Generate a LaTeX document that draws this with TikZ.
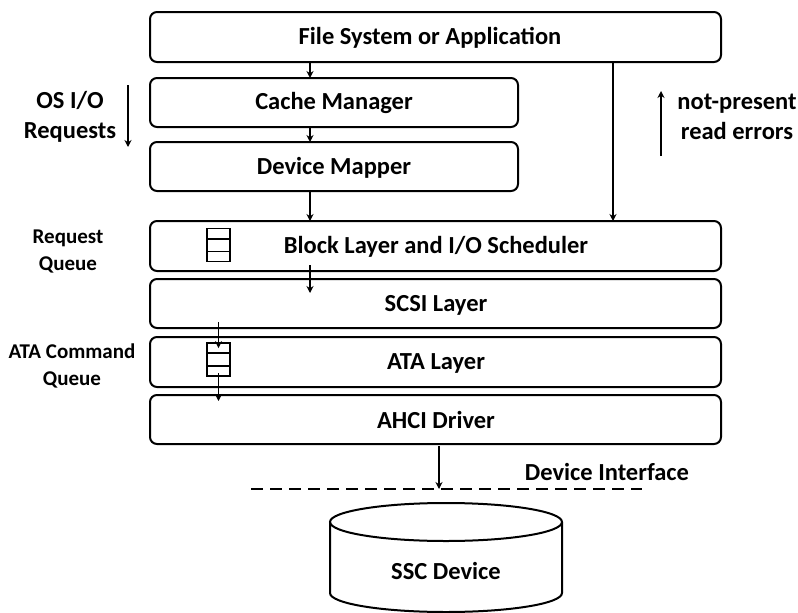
\documentclass[tikz,border=0pt]{standalone}
\usepackage{fontspec}
\setmainfont{Carlito}
\usetikzlibrary{arrows.meta}
\begin{document}
\begin{tikzpicture}[x=1pt,y=-1pt,
  layer/.style={draw,line width=2pt,rounded corners=7pt},
  lbl/.style={font=\fontsize{24.5}{30}\selectfont\bfseries,align=center,inner sep=0pt},
  slbl/.style={font=\fontsize{21}{27}\selectfont\bfseries,align=center,inner sep=0pt},
  arr/.style={line width=1.8pt,-{Stealth[length=7pt,width=7pt]}},
  qbox/.style={draw,line width=1.8pt,minimum width=23pt,minimum height=33pt,inner sep=0pt}]
\useasboundingbox (0,0) rectangle (798,613);
% layers
\draw[layer] (150,12) rectangle (721,62);
\node[lbl] (fs) at (430,38) {File System or Application};
\draw[layer] (150,78) rectangle (518,127);
\node[lbl] (cm) at (334,103) {Cache Manager};
\draw[layer] (150,142) rectangle (518,191);
\node[lbl] (dm) at (334,168) {Device Mapper};
\draw[layer] (150,221) rectangle (721,271);
\node[lbl] (bl) at (436,247) {Block Layer and I/O Scheduler};
\draw[layer] (150,279) rectangle (721,328);
\node[lbl] (scsi) at (436,305) {SCSI Layer};
\draw[layer] (150,337) rectangle (721,387);
\node[lbl] (ata) at (436,363) {ATA Layer};
\draw[layer] (150,395) rectangle (721,444);
\node[lbl] (ahci) at (436,420) {AHCI Driver};
% coordinates
\coordinate (a1) at (310,62); \coordinate (a1e) at (310,78);
\coordinate (a2) at (310,127); \coordinate (a2e) at (310,142);
\coordinate (a3) at (310,191); \coordinate (a3e) at (310,221);
\coordinate (a4) at (310,265); \coordinate (a4e) at (310,293);
\coordinate (r1) at (613,62); \coordinate (r1e) at (613,221);
\draw[arr] (a1) -- (a1e);
\draw[arr] (a2) -- (a2e);
\draw[arr] (a3) -- (a3e);
\draw[arr] (a4) -- (a4e);
\draw[arr] (r1) -- (r1e);
% queues
\node[qbox] (rq) at (218.5,245) {};
\draw[line width=1.8pt] ([yshift=-11pt]rq.north west) -- ([yshift=-11pt]rq.north east)
  ([yshift=11pt]rq.south west) -- ([yshift=11pt]rq.south east);
\node[qbox] (aq) at (218.5,359.5) {};
\draw[line width=1.8pt] ([yshift=-11pt]aq.north west) -- ([yshift=-11pt]aq.north east)
  ([yshift=11pt]aq.south west) -- ([yshift=11pt]aq.south east);
\coordinate (q1) at (218.5,322);
\coordinate (q2) at (218.5,373);
\coordinate (q2e) at (218.5,401);
\draw[arr] (q1) -- ([yshift=-6pt]aq.north);
\draw[arr] (q2) -- (q2e);
% side labels
\node[slbl] (rql) at (68,252) {Request\\Queue};
\node[slbl] (aql) at (72,366) {ATA Command\\Queue};
\node[lbl] (os) at (70,117) {OS I/O\\Requests};
\coordinate (o1) at (128,85); \coordinate (o1e) at (128,147);
\draw[arr] (o1) -- (o1e);
\node[lbl] (np) at (737,117) {not-present\\read errors};
\coordinate (n1) at (661,156); \coordinate (n1e) at (661,91);
\draw[arr] (n1) -- (n1e);
% device interface
\coordinate (d1) at (439,446); \coordinate (d1e) at (439,489);
\draw[arr] (d1) -- (d1e);
\coordinate (dl) at (251,489); \coordinate (dr) at (642,489);
\draw[line width=2pt,dash pattern=on 12pt off 7pt] (dl) -- (dr);
\node[lbl] (di) at (607,472) {Device Interface};
% cylinder
\draw[line width=2pt,fill=white] (330,522) -- (330,593) arc[start angle=180,end angle=0,x radius=116,y radius=19] -- (562,522);
\draw[line width=2pt] (446,522) ellipse[x radius=116,y radius=19];
\node[lbl] (ssc) at (446,571) {SSC Device};
\end{tikzpicture}
\end{document}
